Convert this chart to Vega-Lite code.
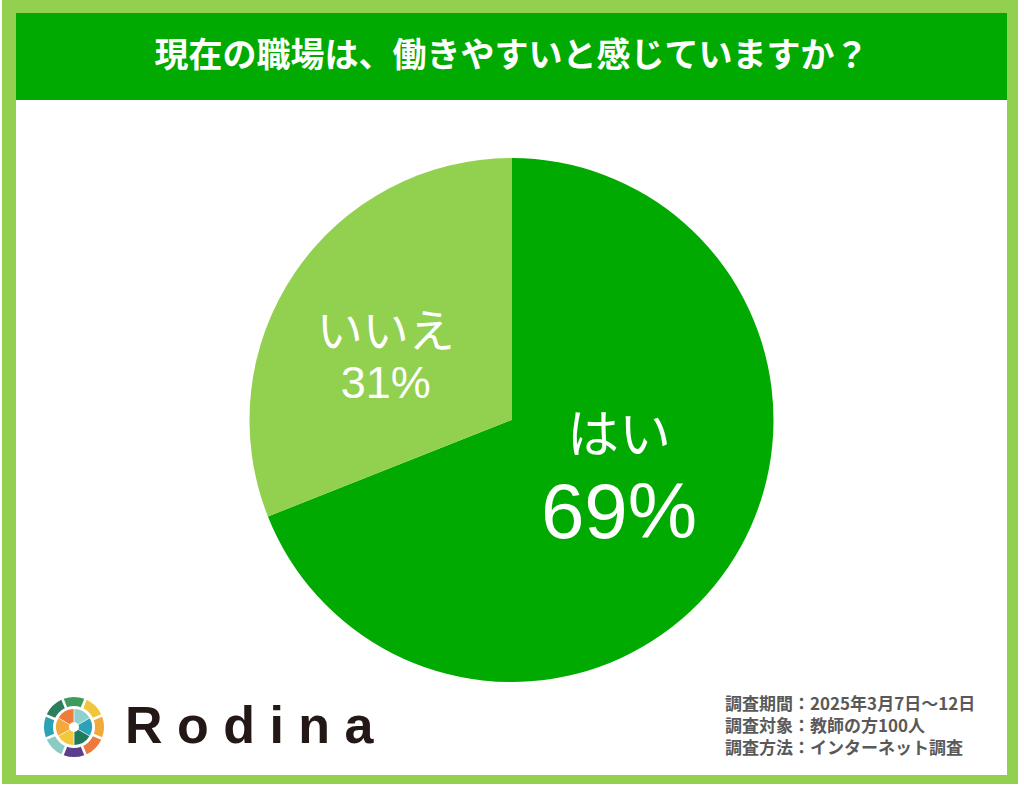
{
  "$schema": "https://vega.github.io/schema/vega-lite/v6.json",
  "background": "white",
  "padding": {"left": 2, "top": 0, "right": 6, "bottom": 4},
  "config": {"view": {"stroke": null}, "concat": {"spacing": 0}},
  "datasets": {
    "answers": [
      {"label": "はい", "share": 0.69},
      {"label": "いいえ", "share": 0.31}
    ],
    "title": [{"text": "現在の職場は、働きやすいと感じていますか？"}],
    "footnotes": [
      {"line": "調査期間：2025年3月7日～12日"},
      {"line": "調査対象：教師の方100人"},
      {"line": "調査方法：インターネット調査"}
    ],
    "ring": [
      {"seg": "o1", "v": 1}, {"seg": "o2", "v": 1}, {"seg": "o3", "v": 1}, {"seg": "o4", "v": 1},
      {"seg": "o5", "v": 1}, {"seg": "o6", "v": 1}, {"seg": "o7", "v": 1}, {"seg": "o8", "v": 1}
    ],
    "blades": [
      {"seg": "i1", "v": 1}, {"seg": "i2", "v": 1}, {"seg": "i3", "v": 1},
      {"seg": "i4", "v": 1}, {"seg": "i5", "v": 1}, {"seg": "i6", "v": 1}
    ],
    "brand": [{"name": "R o d i n a"}]
  },
  "spacing": 0,
  "bounds": "full",
  "resolve": {"scale": {"color": "independent", "theta": "independent"}},
  "vconcat": [
    {"width": 1016, "height": 13, "view": {"fill": "#92D050", "stroke": null}, "data": {"values": []}, "mark": "text", "encoding": {}},
    {
      "spacing": 0,
      "bounds": "full",
      "resolve": {"scale": {"color": "independent", "theta": "independent"}},
      "hconcat": [
        {"width": 14, "height": 762, "view": {"fill": "#92D050", "stroke": null}, "data": {"values": []}, "mark": "text", "encoding": {}},
        {
          "spacing": 0,
          "bounds": "full",
          "resolve": {"scale": {"color": "independent", "theta": "independent"}},
          "vconcat": [
            {
              "width": 991,
              "height": 87,
              "view": {"fill": "#00AA00", "stroke": null},
              "data": {"name": "title"},
              "mark": {"type": "text", "font": "Noto Sans CJK JP", "fontSize": 34, "fontWeight": "bold", "color": "white"},
              "encoding": {"text": {"field": "text", "type": "nominal"}}
            },
            {"width": 991, "height": 55, "data": {"values": []}, "mark": "text", "encoding": {}},
            {
              "width": 991,
              "height": 530,
              "data": {"name": "answers"},
              "encoding": {
                "theta": {"field": "share", "type": "quantitative", "stack": true},
                "order": {"field": "share", "type": "quantitative", "sort": "descending"}
              },
              "layer": [
                {
                  "mark": {"type": "arc", "radius": 262},
                  "encoding": {
                    "color": {"field": "label", "type": "nominal", "legend": null, "scale": {"domain": ["はい", "いいえ"], "range": ["#00AA00", "#92D050"]}}
                  }
                },
                {
                  "mark": {"type": "text", "radius": 130, "dy": -56, "font": "Noto Sans CJK JP", "fontSize": 52, "color": "white"},
                  "encoding": {
                    "detail": {"field": "label", "type": "nominal"},
                    "text": {"condition": {"test": "datum.label === 'はい'", "field": "label", "type": "nominal"}, "value": ""}
                  }
                },
                {
                  "mark": {"type": "text", "radius": 130, "dy": 22, "font": "Liberation Sans", "fontSize": 78, "color": "white"},
                  "encoding": {
                    "detail": {"field": "label", "type": "nominal"},
                    "text": {"condition": {"test": "datum.label === 'はい'", "field": "share", "type": "quantitative", "format": ".0%"}, "value": ""}
                  }
                },
                {
                  "mark": {"type": "text", "radius": 152, "dy": -2, "font": "Noto Sans CJK JP", "fontSize": 46, "color": "white"},
                  "encoding": {
                    "detail": {"field": "label", "type": "nominal"},
                    "text": {"condition": {"test": "datum.label === 'いいえ'", "field": "label", "type": "nominal"}, "value": ""}
                  }
                },
                {
                  "mark": {"type": "text", "radius": 152, "dy": 49, "font": "Liberation Sans", "fontSize": 45, "color": "white"},
                  "encoding": {
                    "detail": {"field": "label", "type": "nominal"},
                    "text": {"condition": {"test": "datum.label === 'いいえ'", "field": "share", "type": "quantitative", "format": ".0%"}, "value": ""}
                  }
                }
              ]
            },
            {
              "spacing": 0,
              "bounds": "flush",
              "resolve": {"scale": {"color": "independent", "theta": "independent"}},
              "hconcat": [
                {
                  "width": 116,
                  "height": 84,
                  "layer": [
                    {
                      "data": {"name": "ring"},
                      "mark": {"type": "arc", "radius": 30, "radius2": 21, "padAngle": 0.07},
                      "encoding": {
                        "theta": {"field": "v", "type": "quantitative", "stack": true, "scale": {"range": [-0.3927, 5.8905]}},
                        "order": {"field": "seg", "type": "nominal"},
                        "color": {"field": "seg", "type": "nominal", "legend": null, "scale": {
                          "domain": ["o1","o2","o3","o4","o5","o6","o7","o8","i1","i2","i3","i4","i5","i6"],
                          "range": ["#3F9A5E","#F2C63A","#F3A83A","#EC7A3C","#5C3F8C","#8CCBC3","#2CA3B4","#2E7D5E","#8ED0CB","#2AA3B8","#1F7A5A","#F3C83A","#F4A93A","#EF7D3A"]
                        }}
                      }
                    },
                    {
                      "data": {"name": "blades"},
                      "mark": {"type": "arc", "radius": 18, "radius2": 5, "padAngle": 0.04},
                      "encoding": {
                        "theta": {"field": "v", "type": "quantitative", "stack": true},
                        "order": {"field": "seg", "type": "nominal"},
                        "color": {"field": "seg", "type": "nominal", "legend": null}
                      }
                    },
                    {
                      "data": {"name": "brand"},
                      "mark": {"type": "text", "align": "left", "dx": 51, "font": "Liberation Sans", "fontSize": 52, "fontWeight": "bold", "color": "#231815"},
                      "encoding": {"text": {"field": "name", "type": "nominal"}}
                    }
                  ],
                  "resolve": {"scale": {"theta": "independent"}}
                },
                {
                  "width": 875,
                  "height": 84,
                  "data": {"name": "footnotes"},
                  "mark": {"type": "text", "align": "left", "dx": 155.5, "font": "Noto Sans CJK JP", "fontSize": 17, "fontWeight": "bold", "color": "#595959"},
                  "encoding": {
                    "y": {"field": "line", "type": "ordinal", "sort": null, "axis": null, "scale": {"padding": 0.93}},
                    "text": {"field": "line", "type": "nominal"}
                  }
                }
              ]
            }
          ]
        },
        {"width": 11, "height": 762, "view": {"fill": "#92D050", "stroke": null}, "data": {"values": []}, "mark": "text", "encoding": {}}
      ]
    },
    {"width": 1016, "height": 9, "view": {"fill": "#92D050", "stroke": null}, "data": {"values": []}, "mark": "text", "encoding": {}}
  ]
}
